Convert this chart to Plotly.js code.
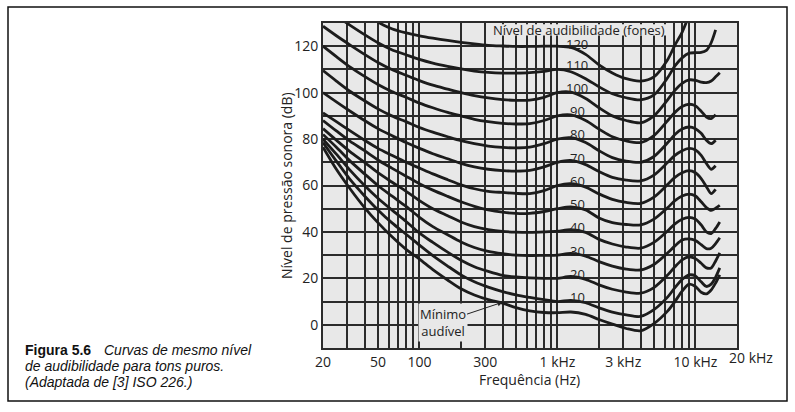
<!DOCTYPE html>
<html>
<head>
<meta charset="utf-8">
<script src="https://cdn.plot.ly/plotly-3.0.1.min.js"></script>
<style>html,body{margin:0;padding:0;background:#fff;}#chart{width:795px;height:412px;}</style>
</head>
<body>
<div id="chart"></div>
<script>
// Frequencies (Hz)
const freq = [20, 25, 31.5, 40, 50, 63, 80, 100, 125, 160, 200, 250, 315, 400, 500, 630, 800, 1000, 1250, 1600, 2000, 2500, 3150, 4000, 5000, 6300, 7100, 8000, 9000, 10000, 11000, 12000, 13000, 14000, 15000];

// Sound pressure level (dB) for each loudness level (phon)
const minimo = [76.5, 67, 58.5, 50.5, 44, 38, 32.5, 28.3, 23.8, 19.3, 15.5, 12.8, 10.8, 9.3, 7.4, 6, 5.3, 5.2, 5.5, 4.5, 2.3, 0.3, -1.6, -2.6, 0.5, 6, 10, 14.5, 17.5, 16.5, 14, 13.3, 15, 18, 21.5];
const fon10 = [78.5, 70.5, 62.5, 55.5, 49.5, 44, 39, 34.3, 29.8, 25.3, 21.5, 18.5, 16.2, 14.3, 12.9, 11.8, 10.8, 10, 10.5, 9.5, 7.3, 5.5, 4.3, 3.6, 6.5, 12, 16, 19.5, 21.5, 21, 18.5, 16.5, 17.5, 20.5, 24.5];
const fon20 = [80, 73.5, 66.5, 60, 54.5, 49.5, 44.5, 39.5, 35.5, 31.3, 27.8, 25, 23, 21.3, 20.6, 20.2, 20, 20, 20.8, 19.6, 17.2, 15.3, 14.1, 13.6, 16, 21.5, 25, 28, 29.3, 28.5, 26.5, 24.5, 24.5, 27.5, 31];
const fon30 = [82, 76.5, 70.5, 65, 60, 55.5, 51, 46.3, 42.3, 38.8, 35.7, 33.3, 31.6, 30.6, 30, 29.8, 29.9, 30, 30.8, 29.6, 27.2, 25.3, 24, 23.6, 26, 31, 34, 36.5, 37, 36.3, 34.5, 32.8, 33, 35, 37.5];
const fon40 = [84.5, 79.5, 74.5, 70, 65.5, 61.5, 57.5, 53.5, 50, 47, 44.3, 42.3, 41, 40.2, 39.9, 39.8, 40, 40.3, 41, 39.8, 36.8, 34.8, 33.5, 33, 35.5, 40.5, 43.5, 45.5, 46.3, 45.5, 43, 40, 39.3, 41.5, 44.3];
const fon50 = [88, 83.5, 79, 75, 71, 67.5, 64, 60.8, 58, 55.3, 53, 51, 49.5, 48.5, 48, 48, 48.8, 50, 50.8, 49.5, 46, 44, 43.2, 43, 45.5, 50.5, 53.5, 55.5, 56.3, 55.5, 53, 50.5, 49.3, 50.2, 51.5];
const fon60 = [91.3, 87.5, 83.5, 79.5, 76, 73, 70, 67.5, 65, 62.5, 60.3, 58.6, 57.5, 57, 56.6, 56.5, 57.8, 60, 60.8, 59.3, 56.4, 54, 52.7, 52.3, 55, 60.5, 63.5, 65.5, 66.4, 65.5, 63, 59.5, 56.5, 58.3, null];
const fon70 = [100, 96, 92, 88, 84.5, 81.5, 78.5, 76, 73.7, 71.5, 69.5, 68, 67, 66.4, 66.2, 66.5, 68, 70, 70.8, 69, 66, 63.5, 62.3, 62, 64.5, 70, 73, 75, 76, 75.3, 73, 69.5, 67, 68.5, null];
const fon80 = [109.5, 105, 100.5, 96.5, 93, 90, 87.5, 85, 83, 81, 79.3, 78, 77, 76.4, 76.2, 76.5, 78, 80, 80.6, 78.5, 75, 72, 70.5, 70, 72.5, 78.5, 82, 84.3, 85.2, 84.5, 82.5, 79.5, 78, 79.5, null];
const fon90 = [120, 115.5, 111, 107, 103.5, 100.5, 98, 95.5, 93.5, 91.5, 90, 88.5, 87.5, 86.8, 86.5, 86.7, 88, 90, 90.4, 88, 84.3, 81, 79.2, 78.5, 81.5, 88, 91.5, 94, 95, 94.3, 92, 89.5, 88.8, 90.5, null];
const fon100 = [128.6, 124.5, 120.5, 116.5, 113, 110, 107.5, 105.2, 103.2, 101.5, 100, 98.7, 97.7, 97, 96.7, 96.8, 98, 100, 100.2, 97.5, 93.5, 90, 88, 87, 90, 97, 101, 104, 105.5, 105.3, 104.5, 104.3, 105, 106.8, 108.6];
const fon110 = [137, 133, 129, 125, 121.5, 118.5, 116.3, 114.3, 112.7, 111.3, 110.2, 109.3, 108.7, 108.4, 108.4, 108.6, 109.2, 110, 109, 106, 102.5, 99.5, 97.8, 96.9, 99, 106.5, 111.5, 115, 117, 117.2, 117.3, 118.2, 121.5, 127, null];
const fon120 = [null, null, null, 136, 130.5, 127.5, 125.7, 124.5, 123.5, 122.5, 121.7, 121, 120.4, 120.1, 119.9, 119.9, 120, 120, 119.5, 116.5, 112, 108.5, 106, 105, 106.8, 114.3, 120.5, 126, 133.5, null, null, null, null, null, null];

const curves = [minimo, fon10, fon20, fon30, fon40, fon50, fon60, fon70, fon80, fon90, fon100, fon110, fon120];

// Curve labels (phon)
const phonLabels = [10, 20, 30, 40, 50, 60, 70, 80, 90, 100, 110, 120];

// Axis ticks
const xGrid = [20, 30, 40, 50, 60, 70, 80, 90, 100, 200, 300, 400, 500, 600, 700, 800, 900, 1000, 2000, 3000, 4000, 5000, 6000, 7000, 8000, 9000, 10000, 20000];
const xTickText = ['20', '', '', '50', '', '', '', '', '100', '', '300', '', '', '', '', '', '', '1 kHz', '', '3 kHz', '', '', '', '', '', '', '10 kHz', ''];
const yGrid = [-10, 0, 10, 20, 30, 40, 50, 60, 70, 80, 90, 100, 110, 120, 130];
const yTickText = ['', '0', '', '20', '', '40', '', '60', '', '80', '', '100', '', '120', ''];

const txt = {
  titleX: 'Frequência (Hz)',
  titleY: 'Nível de pressão sonora (dB)',
  legendTitle: 'Nível de audibilidade (fones)',
  minimo: 'Mínimo<br>audível',
  lastTick: '20 kHz',
  capBold: 'Figura 5.6',
  cap1: 'Curvas de mesmo nível',
  cap2: 'de audibilidade para tons puros.',
  cap3: '(Adaptada de [3] ISO 226.)'
};

// ---- geometry (pixels of the 795x412 picture) ----
const W = 795, H = 412;
const PL = 323, PR = 737, PT = 23, PB = 348;
const px = X => (X - PL) / (PR - PL);
const py = Y => (PB - Y) / (PB - PT);

const FONT = 'Open Sans, Noto Sans, sans-serif';
const INK = '#1c1c1c';
const GRID = '#2b2b2b';
const BG = '#e8e8e8';

const traces = curves.map(c => ({
  x: freq, y: c, type: 'scatter', mode: 'lines',
  line: {color: INK, width: 2.8, shape: 'spline', smoothing: 0.8},
  connectgaps: false, hoverinfo: 'skip', showlegend: false
}));

const ann = [];
ann.push({xref: 'paper', yref: 'paper', x: px(579), y: py(29.5), text: txt.legendTitle, showarrow: false,
  font: {family: FONT, size: 13, color: '#222'}, borderpad: 0, xanchor: 'center', yanchor: 'middle'});
phonLabels.forEach(p => {
  ann.push({xref: 'paper', yref: 'y', x: px(577), y: p + (p === 120 ? 1.0 : 2.0), text: String(p), showarrow: false,
    font: {family: FONT, size: 13, color: '#222'}, xanchor: 'center', yanchor: 'middle', borderpad: 0});
});
ann.push({xref: 'x', yref: 'y', x: Math.log10(400), y: 9.7, text: txt.minimo, showarrow: true,
  ax: -60, ay: 20, axref: 'pixel', ayref: 'pixel', arrowhead: 2, arrowsize: 1, arrowwidth: 1, arrowcolor: '#222', standoff: 0,
  font: {family: FONT, size: 13, color: '#222'}, bgcolor: BG, borderpad: 1});
ann.push({xref: 'paper', yref: 'paper', x: px(751), y: py(357), text: txt.lastTick, showarrow: false,
  font: {family: FONT, size: 14, color: '#222'}, xanchor: 'center', yanchor: 'middle'});
ann.push({xref: 'paper', yref: 'paper', x: px(287), y: py(186), text: txt.titleY, textangle: -90, showarrow: false,
  font: {family: FONT, size: 14, color: '#222'}, xanchor: 'center', yanchor: 'middle'});
ann.push({xref: 'paper', yref: 'paper', x: px(529), y: py(379), text: txt.titleX, showarrow: false,
  font: {family: FONT, size: 14, color: '#222'}, xanchor: 'center', yanchor: 'middle'});
const CAP = 'Liberation Sans, Arial, sans-serif';
ann.push({xref: 'paper', yref: 'paper', x: px(23), y: py(350), text: '<b>' + txt.capBold + '</b>', showarrow: false,
  font: {family: CAP, size: 14, color: '#111'}, xanchor: 'left', yanchor: 'middle'});
ann.push({xref: 'paper', yref: 'paper', x: px(102), y: py(350), text: '<i>' + txt.cap1 + '</i>', showarrow: false,
  font: {family: CAP, size: 14, color: '#111'}, xanchor: 'left', yanchor: 'middle'});
ann.push({xref: 'paper', yref: 'paper', x: px(23), y: py(366), text: '<i>' + txt.cap2 + '</i>', showarrow: false,
  font: {family: CAP, size: 14, color: '#111'}, xanchor: 'left', yanchor: 'middle'});
ann.push({xref: 'paper', yref: 'paper', x: px(23), y: py(381.5), text: '<i>' + txt.cap3 + '</i>', showarrow: false,
  font: {family: CAP, size: 14, color: '#111'}, xanchor: 'left', yanchor: 'middle'});

const layout = {
  width: W, height: H,
  margin: {l: PL, r: W - PR, t: PT, b: H - PB, pad: 0},
  paper_bgcolor: '#ffffff', plot_bgcolor: BG,
  showlegend: false, hovermode: false,
  xaxis: {type: 'log', range: [Math.log10(20), Math.log10(20000)], tickmode: 'array', tickvals: xGrid, ticktext: xTickText,
    showgrid: true, gridcolor: GRID, gridwidth: 2, showline: true, mirror: true, linecolor: GRID, linewidth: 2,
    zeroline: false, ticks: '', tickfont: {family: FONT, size: 14, color: '#222'}, fixedrange: true},
  yaxis: {range: [-10, 130], tickmode: 'array', tickvals: yGrid, ticktext: yTickText,
    showgrid: true, gridcolor: GRID, gridwidth: 2, showline: true, mirror: true, linecolor: GRID, linewidth: 2,
    zeroline: false, ticks: '', tickfont: {family: FONT, size: 14, color: '#222'}, fixedrange: true},
  annotations: ann,
  shapes: [
    {type: 'rect', xref: 'paper', yref: 'paper', x0: px(8), x1: px(787), y0: py(401), y1: py(7),
      line: {color: '#111', width: 1.5}, fillcolor: 'rgba(0,0,0,0)', layer: 'below'},
    // mask behind the curve-family title so grid lines do not run through it
    {type: 'rect', xref: 'paper', yref: 'paper', x0: px(489), x1: px(669), y0: py(35.5), y1: py(24.2),
      line: {width: 0}, fillcolor: BG, layer: 'above'}
  ]
};

Plotly.newPlot('chart', traces, layout, {staticPlot: true, displayModeBar: false});
</script>
</body>
</html>
